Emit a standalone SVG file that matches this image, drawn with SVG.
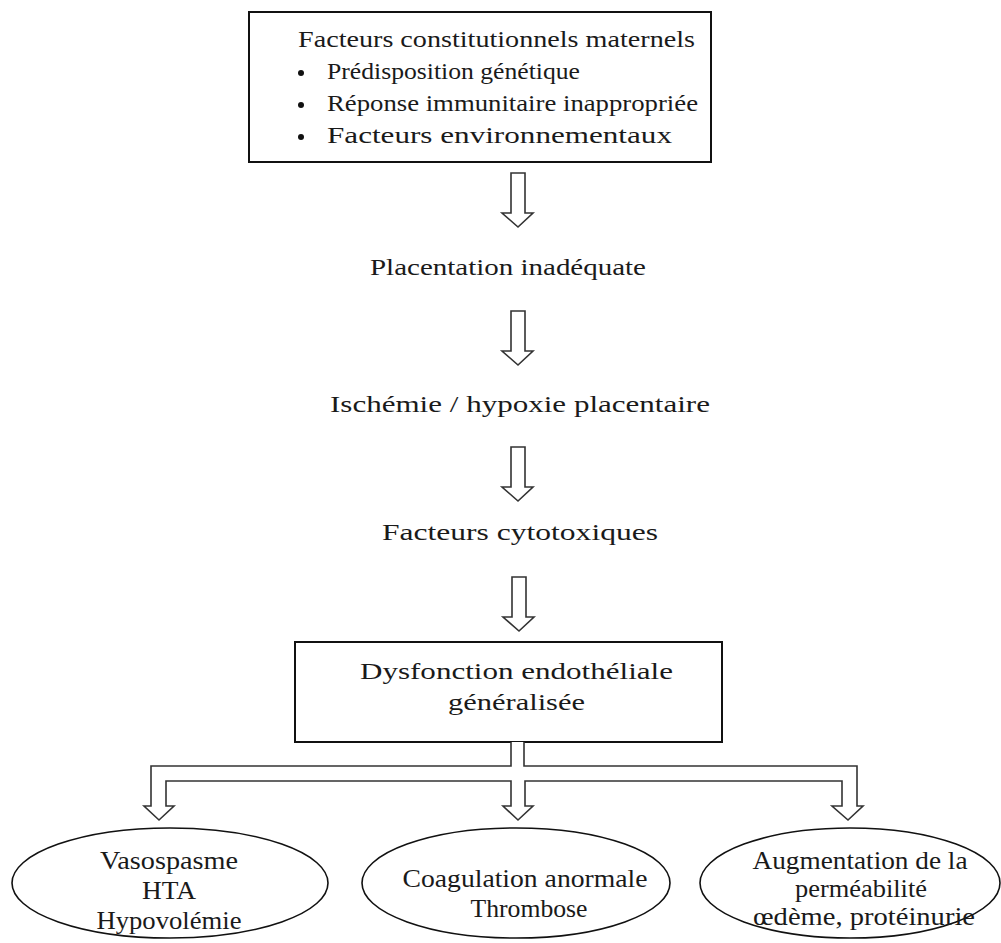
<svg xmlns="http://www.w3.org/2000/svg" width="1001" height="943" viewBox="0 0 1001 943">
<style>
.box{fill:#fff;stroke:#111;stroke-width:2}
.ell{fill:#fff;stroke:#111;stroke-width:1.6}
.arr{fill:#fff;stroke:#333;stroke-width:1.6;stroke-linejoin:miter}
.t{font-family:"Liberation Serif","Times New Roman",serif;font-size:23px;fill:#1a1a1a}
.e{font-family:"Liberation Serif","Times New Roman",serif;font-size:26px;fill:#1a1a1a;text-anchor:middle}
</style>
<defs>
<path id="darrow" d="M-7,0 L7,0 L7,40 L15,40 L0,54 L-16,40 L-7,40 Z"/>
</defs>
<rect width="1001" height="943" fill="#fff"/>
<g id="node-facteurs">
<rect class="box" x="249" y="12" width="462" height="150"/>
<text class="t" x="298" y="47" textLength="397" lengthAdjust="spacingAndGlyphs">Facteurs constitutionnels maternels</text>
<circle cx="301" cy="73" r="3" fill="#111"/>
<circle cx="301" cy="105" r="3" fill="#111"/>
<circle cx="301" cy="137" r="3" fill="#111"/>
<text class="t" x="327" y="79" textLength="253" lengthAdjust="spacingAndGlyphs">Prédisposition génétique</text>
<text class="t" x="327" y="111" textLength="371" lengthAdjust="spacingAndGlyphs">Réponse immunitaire inappropriée</text>
<text class="t" x="327" y="143" textLength="345" lengthAdjust="spacingAndGlyphs">Facteurs environnementaux</text>
</g>
<g id="node-placentation">
<text class="t" x="370" y="275" textLength="276" lengthAdjust="spacingAndGlyphs">Placentation inadéquate</text>
</g>
<g id="node-ischemie">
<text class="t" x="330" y="412" textLength="380" lengthAdjust="spacingAndGlyphs">Ischémie / hypoxie placentaire</text>
</g>
<g id="node-cytotoxiques">
<text class="t" x="382" y="540" textLength="276" lengthAdjust="spacingAndGlyphs">Facteurs cytotoxiques</text>
</g>
<g id="node-dysfonction">
<rect class="box" x="295" y="642" width="427" height="100"/>
<text class="t" x="360" y="679" textLength="313" lengthAdjust="spacingAndGlyphs">Dysfonction endothéliale</text>
<text class="t" x="448" y="710" textLength="137" lengthAdjust="spacingAndGlyphs">généralisée</text>
</g>
<g id="node-vasospasme">
<ellipse class="ell" cx="170" cy="883" rx="158" ry="55"/>
<text class="e" x="169" y="869" textLength="138" lengthAdjust="spacingAndGlyphs">Vasospasme</text>
<text class="e" x="169" y="899" textLength="54" lengthAdjust="spacingAndGlyphs">HTA</text>
<text class="e" x="169" y="929" textLength="145" lengthAdjust="spacingAndGlyphs">Hypovolémie</text>
</g>
<g id="node-coagulation">
<ellipse class="ell" cx="516" cy="883" rx="154" ry="55"/>
<text class="e" x="525" y="887" textLength="245" lengthAdjust="spacingAndGlyphs">Coagulation anormale</text>
<text class="e" x="529" y="917" textLength="117" lengthAdjust="spacingAndGlyphs">Thrombose</text>
</g>
<g id="node-augmentation">
<ellipse class="ell" cx="850" cy="883" rx="150" ry="55"/>
<text class="e" x="860" y="869" textLength="215" lengthAdjust="spacingAndGlyphs">Augmentation de la</text>
<text class="e" x="861" y="897" textLength="132" lengthAdjust="spacingAndGlyphs">perméabilité</text>
<text class="e" x="864" y="925" textLength="222" lengthAdjust="spacingAndGlyphs">œdème, protéinurie</text>
</g>
<g id="connectors">
<use href="#darrow" class="arr" transform="translate(518,173)"/>
<use href="#darrow" class="arr" transform="translate(518,311)"/>
<use href="#darrow" class="arr" transform="translate(518,447)"/>
<use href="#darrow" class="arr" transform="translate(519,577)"/>
<path class="arr" d="M511,742 L511,766 L151,766 L151,806 L144,806 L159,820 L174,806 L166,806 L166,781 L511,781 L511,806 L503,806 L518,820 L533,806 L525,806 L525,781 L842,781 L842,806 L832,806 L848,820 L863,806 L857,806 L857,766 L524,766 L524,742"/>
</g>
</svg>
